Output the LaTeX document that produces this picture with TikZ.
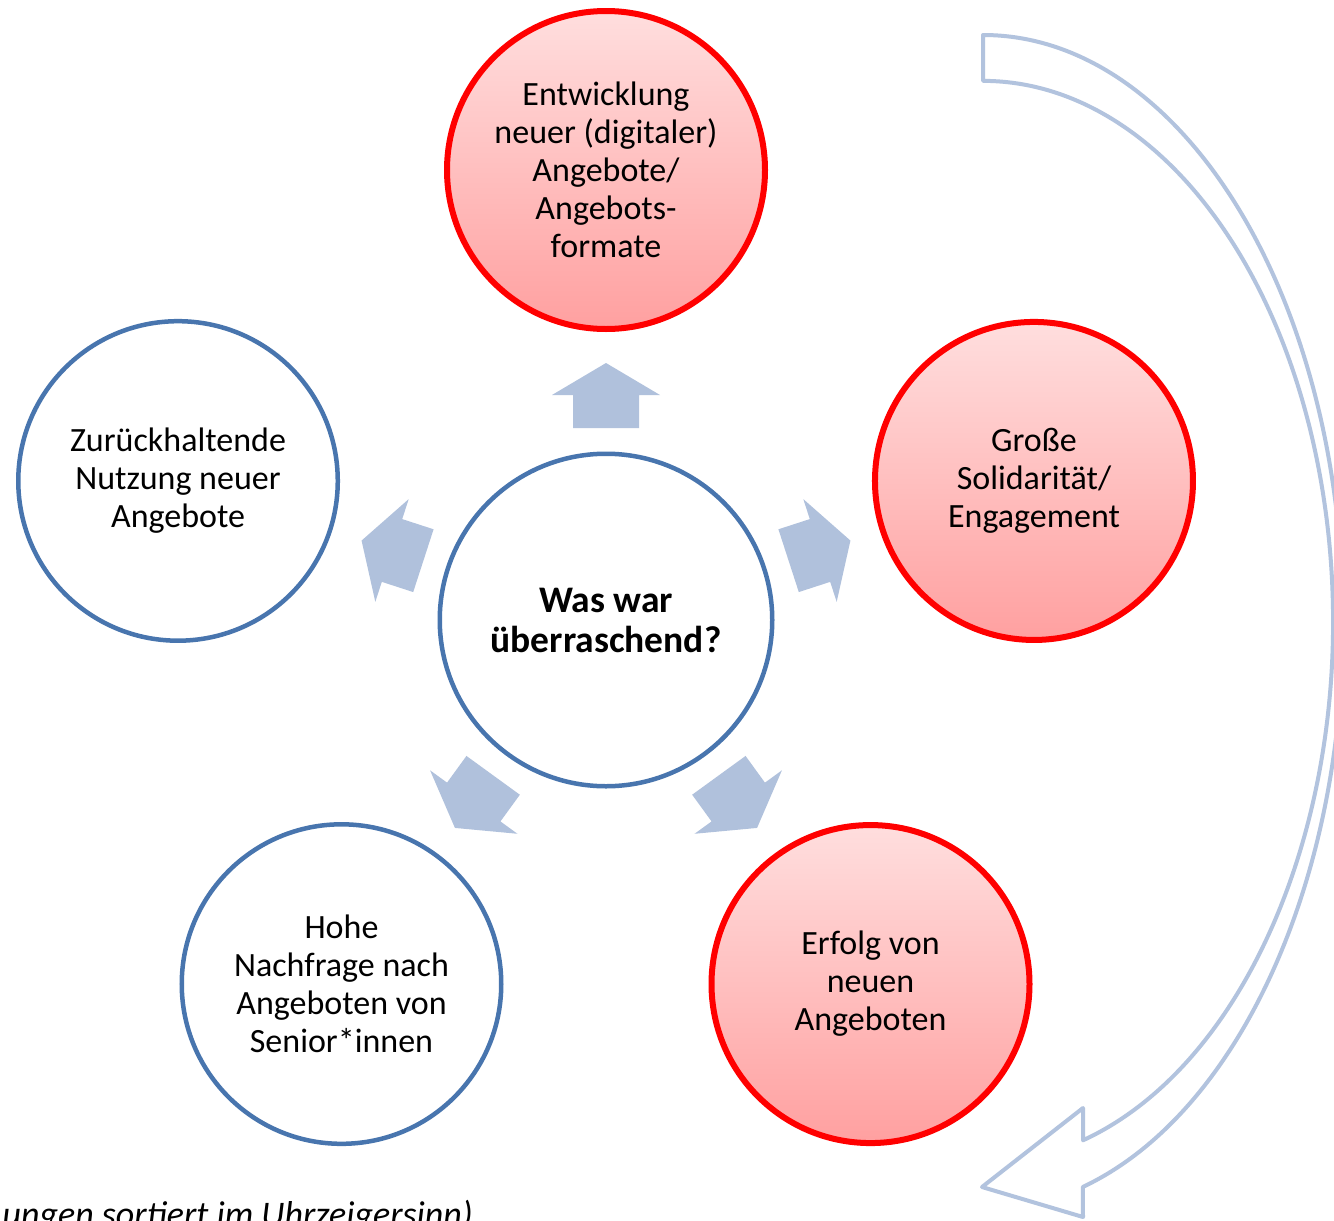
\documentclass[tikz,border=0pt]{standalone}
\usepackage{fontspec}
\setmainfont{Carlito}
\usetikzlibrary{calc,shadows}
\definecolor{ringblue}{RGB}{72,117,174}
\definecolor{arrowblue}{RGB}{176,193,220}
\definecolor{curveblue}{RGB}{178,195,222}
\definecolor{redtop}{RGB}{255,222,222}
\definecolor{redbot}{RGB}{255,160,160}
\tikzset{
  txt/.style={align=center, font={\fontsize{34}{38}\selectfont}, text=black},
  bluecirc/.style={circle, draw=ringblue, line width=4.5pt, fill=white, inner sep=0pt, minimum size=319.5pt, txt},
  redcirc/.style={circle, draw=red, line width=6pt, top color=redtop, bottom color=redbot, inner sep=0pt, minimum size=318pt, txt,
     drop shadow={shadow xshift=1pt, shadow yshift=-2.5pt, opacity=0.15, fill=black}},
  centercirc/.style={circle, draw=ringblue, line width=4.5pt, fill=white, inner sep=0pt, minimum size=332.5pt, align=center,
     font={\bfseries\fontsize{37.5}{40}\selectfont}},
  blockarrow/.style={fill=arrowblue, draw=none},
  curvarrow/.style={draw=curveblue, line width=4pt, line join=round, fill=none}
}
\begin{document}
\begin{tikzpicture}[x=1pt,y=1pt]
\useasboundingbox (0,0) rectangle (1334,-1221);
\fill[white] (0,0) rectangle (1334,-1221);

% centre
\node[centercirc] (c) at (606,-620) {Was war\\überraschend?};

% outer circles
\node[redcirc]  (top)   at ($(c.center)+(90:450)$)  {Entwicklung\\neuer (digitaler)\\Angebote/\\Angebots-\\formate};
\node[redcirc]  (right) at ($(c.center)+(18:450)$)  {Große\\Solidarität/\\Engagement};
\node[redcirc]  (br)    at ($(c.center)+(-54:450)$) {Erfolg von\\neuen\\Angeboten};
\node[bluecirc] (bl)    at ($(c.center)+(-126:450)$) {Hohe\\Nachfrage nach\\Angeboten von\\Senior*innen};
\node[bluecirc] (left)  at ($(c.center)+(162:450)$) {Zurückhaltende\\Nutzung neuer\\Angebote};

% block arrows
\foreach \a in {90,18,-54,-126,162}{
  \begin{scope}[shift={(c.center)}, rotate=\a]
    \fill[blockarrow] (192,33) -- (225,33) -- (225,54) -- (257,0) -- (225,-54) -- (225,-33) -- (192,-33) -- cycle;
  \end{scope}
}

% curved outline arrow
\coordinate (cs) at (983,-35);
\coordinate (ci) at (1083,-1140.3);
\draw[curvarrow] (cs) arc[start angle=90, end angle=-73.9, x radius=360, y radius=587.5]
   -- (1083,-1217) -- (982,-1187) -- (1083,-1108) -- (ci)
   arc[start angle=-73.4, end angle=90, x radius=350, y radius=541] -- cycle;

% caption (cut off at the picture's edge, as in the original)
\node[anchor=base east, inner sep=0pt, font={\itshape\fontsize{36}{40}\selectfont}] (note) at (473,-1226) {ungen sortiert im Uhrzeigersinn)};
\end{tikzpicture}
\end{document}
